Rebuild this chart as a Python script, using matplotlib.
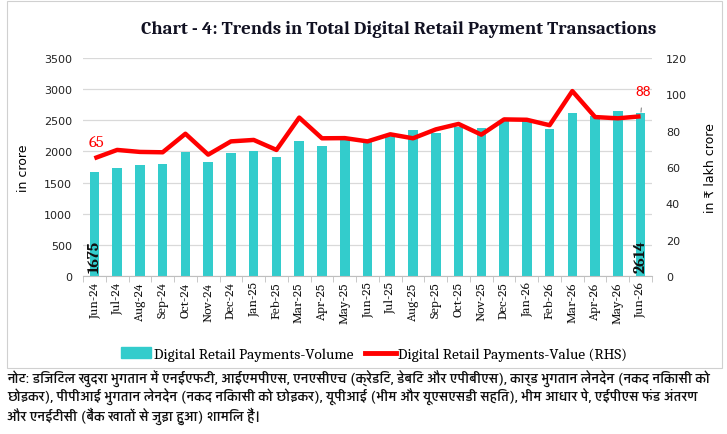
import matplotlib
matplotlib.use("Agg")
import matplotlib.pyplot as plt
from matplotlib.patches import Rectangle
from matplotlib.lines import Line2D

months = ["Jun-24", "Jul-24", "Aug-24", "Sep-24", "Oct-24", "Nov-24", "Dec-24", "Jan-25",
          "Feb-25", "Mar-25", "Apr-25", "May-25", "Jun-25", "Jul-25", "Aug-25", "Sep-25",
          "Oct-25", "Nov-25", "Dec-25", "Jan-26", "Feb-26", "Mar-26", "Apr-26", "May-26", "Jun-26"]
volume = [1675, 1739, 1788, 1794, 1987, 1836, 1975, 2008, 1911, 2163, 2093, 2195, 2147,
          2243, 2345, 2301, 2388, 2382, 2494, 2490, 2356, 2622, 2565, 2650, 2614]
value = [64.8, 69.4, 68.3, 68.1, 78.3, 66.8, 74.1, 74.9, 69.4, 87.2, 75.8, 75.9, 74.1,
         78.0, 75.8, 80.7, 83.7, 77.8, 86.2, 86.0, 83.0, 101.8, 87.5, 86.8, 87.9]
left_ticks = [0, 500, 1000, 1500, 2000, 2500, 3000, 3500]
right_ticks = [0, 20, 40, 60, 80, 100, 120]

title = "Chart - 4: Trends in Total Digital Retail Payment Transactions"
note_lines = [
    "नोट: डिजिटल खुदरा भुगतान में एनईएफटी, आईएमपीएस, एनएसीएच (क्रेडिट, डेबिट और एपीबीएस), कार्ड भुगतान लेनदेन (नकद निकासी को",
    "छोड़कर), पीपीआई भुगतान लेनदेन (नकद निकासी को छोड़कर), यूपीआई (भीम और यूएसएसडी सहित), भीम आधार पे, एईपीएस फंड अंतरण",
    "और एनईटीसी (बैंक खातों से जुड़ा हुआ) शामिल हैं।",
]

teal = "#33CCCC"
red = "#FF0000"
serif = ["Caladea", "Liberation Serif", "DejaVu Serif"]
sans = ["DejaVu Sans"]
note_family = ["Yantramanav", "FreeSans", "DejaVu Sans"]

fig = plt.figure(figsize=(7.27, 4.35), dpi=100)
W, H = 727, 435
ax = fig.add_axes([83 / W, 1 - 277 / H, (652 - 83) / W, (277 - 59) / H])
x = list(range(len(months)))
ax.bar(x, volume, width=0.42, color=teal, zorder=2)
ax.set_ylim(0, 3500)
ax.set_xlim(-0.5, len(months) - 0.5)
ax.set_yticks(left_ticks)
ax.set_yticklabels([str(t) for t in left_ticks], fontsize=8, family=sans, color="#222222")
ax.tick_params(axis="y", length=0, pad=8)
ax.grid(axis="y", color="#D9D9D9", linewidth=0.9, zorder=0)
ax.set_xticks(x)
ax.set_xticklabels(months, rotation=90, fontsize=9.5, family=serif, color="#111111")
ax.tick_params(axis="x", length=0, pad=4)
ax.set_xticks([i + 0.5 for i in range(-1, len(months))], minor=True)
ax.tick_params(axis="x", which="minor", length=4, color="#BFBFBF")
for s in ["top", "right", "left"]:
    ax.spines[s].set_visible(False)
ax.spines["bottom"].set_color("#BFBFBF")
ax.set_ylabel("in crore", fontsize=9, family=sans, labelpad=10)

ax2 = ax.twinx()
ax2.plot(x, value, color=red, linewidth=3.2, zorder=3, solid_capstyle="butt")
ax2.set_ylim(0, 120)
ax2.set_yticks(right_ticks)
ax2.set_yticklabels([str(t) for t in right_ticks], fontsize=8, family=sans, color="#222222")
ax2.tick_params(axis="y", length=0, pad=10)
for s in ["top", "right", "left", "bottom"]:
    ax2.spines[s].set_visible(False)
ax2.set_ylabel("in ₹ lakh crore", fontsize=9, family=sans, labelpad=12)

# data labels
ax.text(x[0], 60, str(volume[0]), rotation=90, ha="center", va="bottom",
        fontsize=11.5, family=serif, fontweight="bold", color="#111111", zorder=4)
ax.text(x[-1], 60, str(volume[-1]), rotation=90, ha="center", va="bottom",
        fontsize=11.5, family=serif, fontweight="bold", color="#111111", zorder=4)
ax2.annotate(f"{value[0]:.0f}", xy=(x[0], value[0]), xytext=(x[0] + 0.1, value[0] + 9),
             ha="center", va="center", fontsize=12, family=serif, color=red)
ax2.annotate(f"{value[-1]:.0f}", xy=(x[-1], value[-1]), xytext=(x[-1] + 0.1, value[-1] + 14),
             ha="center", va="center", fontsize=11, family=["Carlito", "DejaVu Sans"], color=red,
             arrowprops=dict(arrowstyle="-", color="#888888", lw=0.8, shrinkA=6, shrinkB=3))

# title
fig.text(399 / W, 1 - 30 / H, title, ha="center", va="center", fontsize=13.5,
         fontweight="bold", family=serif, color="#111122")

# legend
leg_handles = [Rectangle((0, 0), 1, 1, color=teal),
               Line2D([0], [0], color=red, lw=3.5)]
fig.legend(leg_handles, ["Digital Retail Payments-Volume", "Digital Retail Payments-Value (RHS)"],
           loc="center", bbox_to_anchor=(374 / W, 1 - 355 / H), ncol=2, frameon=False,
           prop={"family": serif, "size": 11}, handlelength=2.0, handletextpad=0.15,
           columnspacing=0.8)

# border
fig.patches.append(Rectangle((7 / W, 1 - 369 / H), (722 - 7) / W, (369 - 2) / H,
                             transform=fig.transFigure, fill=False,
                             edgecolor="#D0D0D0", linewidth=0.8))

# note
for i, line in enumerate(note_lines):
    fig.text(7 / W, 1 - (379 + i * 18.5) / H, line, ha="left", va="center",
             fontsize=10, fontweight="medium", family=note_family, color="#111111")

fig.savefig("out.png", dpi=100)
